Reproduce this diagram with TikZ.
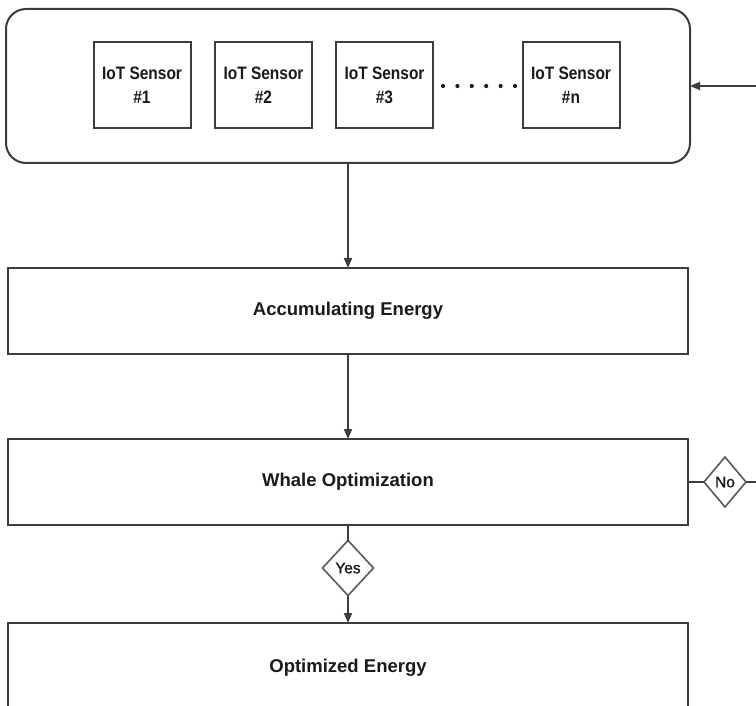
\documentclass[tikz,border=0pt]{standalone}
\usepackage{fontspec}
\setmainfont{Liberation Sans}
\newfontfamily\condfont{Liberation Sans}[FakeStretch=0.86]
\newfontfamily\semifont{Liberation Sans}[FakeBold=1.2]
\usetikzlibrary{shapes.geometric,arrows.meta}
\definecolor{linec}{HTML}{3C3C3C}
\definecolor{textc}{HTML}{1A1A1A}
\begin{document}
\begin{tikzpicture}[x=1pt,y=-1pt,
  every node/.style={inner sep=0pt, outer sep=0pt, text=textc},
  box/.style={draw=linec, line width=2pt, rectangle, minimum width=680pt, minimum height=86pt,
              font=\fontsize{18.5}{22}\selectfont\bfseries},
  sensorbox/.style={draw=linec, line width=2pt, rectangle, minimum width=97pt, minimum height=86pt,
              align=center, font=\condfont\fontsize{18}{24}\selectfont\bfseries},
  decision/.style={draw=linec!85, line width=1.6pt, diamond, font=\semifont\fontsize{15.5}{18}\selectfont},
  conn/.style={draw=linec, line width=1.8pt},
  arr/.style={conn, -{Triangle[length=10pt,width=8pt]}}
]
\useasboundingbox (0,0) rectangle (756,706);
\clip (0,0) rectangle (756,706);
\fill[white] (0,0) rectangle (756,706);

% top group of sensors
\node[draw=linec, line width=2pt, rounded corners=20pt, minimum width=684pt, minimum height=154pt] (grp) at (348,86) {};
\node[sensorbox] (s1) at (142,85) {IoT Sensor\\\#1};
\node[sensorbox] (s2) at (263.5,85) {IoT Sensor\\\#2};
\node[sensorbox] (s3) at (384.5,85) {IoT Sensor\\\#3};
\node[sensorbox] (sn) at (571,85) {IoT Sensor\\\#n};
\foreach \i in {0,...,5} {
  \fill[textc] (443+\i*14.4,86) circle (2.1pt);
}

% main boxes
\node[box] (acc) at (348,311) {Accumulating Energy};
\node[box] (whale) at (348,482) {Whale Optimization};
\node[box, minimum height=90pt] (opt) at (348,668) {Optimized Energy};

% decisions
\node[decision, minimum width=51pt, minimum height=55pt] (yes) at (348,568) {Yes};
\node[decision, minimum width=42pt, minimum height=50pt] (no) at (725,482) {No};

% connectors
\draw[arr] (grp.south) -- (acc.north);
\draw[arr] (acc.south) -- (whale.north);
\draw[conn] (whale.south) -- (yes.north);
\draw[arr] (yes.south) -- (opt.north);
\draw[conn] (whale.east) -- (no.west);
\coordinate (loopA) at (790,482);
\draw[arr] (no.east) -- (loopA) |- (grp.east);
\end{tikzpicture}
\end{document}
